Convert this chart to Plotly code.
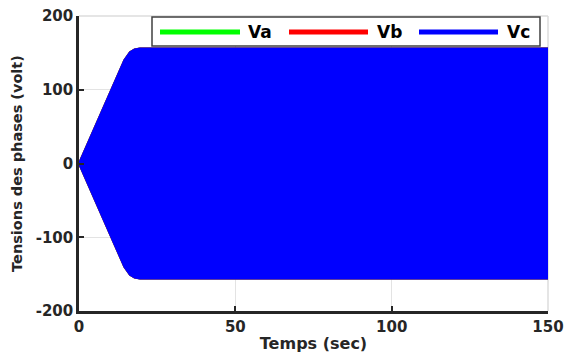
import plotly.graph_objects as go

# Envelope of the (densely oscillating) three-phase voltages
time_s = [0, 6, 14.5, 16.3, 17.8, 19.5, 150]
amp_va = [0, 58, 140, 151, 154.5, 156, 156]
amp_vb = [0, 58, 140, 151, 154.5, 156, 156]
amp_vc = [0, 58, 140, 151, 154.5, 156, 156]

series_names = ["Va", "Vb", "Vc"]
series_amps = [amp_va, amp_vb, amp_vc]
series_colors = ["#00ff00", "#ff0000", "#0000ff"]

x_ticks = [0, 50, 100, 150]
y_ticks = [-200, -100, 0, 100, 200]

fig = go.Figure()
for name, amp, col in zip(series_names, series_amps, series_colors):
    xs = list(time_s) + list(reversed(time_s))
    ys = list(amp) + [-a for a in reversed(amp)]
    fig.add_trace(go.Scatter(x=xs, y=ys, mode="lines", fill="toself",
                             fillcolor=col, line=dict(color=col, width=2),
                             name=name, showlegend=False, hoverinfo="skip"))

TXT = "#262626"
tickfont = dict(family="DejaVu Sans", size=15, color=TXT)
fig.update_layout(
    width=566, height=360,
    margin=dict(l=79, r=18, t=16, b=49),
    paper_bgcolor="white", plot_bgcolor="white",
    font=dict(family="DejaVu Sans", color=TXT),
    showlegend=False,
)
fig.update_xaxes(range=[0, 150], tickvals=x_ticks, ticktext=[f"<b>{v}</b>" for v in x_ticks],
                 tickfont=tickfont, showline=True, linecolor=TXT, linewidth=2.5,
                 ticks="inside", ticklen=5, tickwidth=2, tickcolor=TXT, automargin=False,
                 showgrid=True, gridcolor="#e3e3e3", gridwidth=1, zeroline=False,
                 title=dict(text="<b>Temps (sec)</b>", font=dict(family="DejaVu Sans", size=16, color=TXT), standoff=4))
fig.update_yaxes(range=[-200, 200], tickvals=y_ticks, ticktext=[f"<b>{v}</b>" for v in y_ticks],
                 tickfont=tickfont, showline=True, linecolor=TXT, linewidth=2.5,
                 ticks="inside", ticklen=5, tickwidth=2, tickcolor=TXT, automargin=False,
                 showgrid=True, gridcolor="#e3e3e3", gridwidth=1, zeroline=False,
                 title=dict(text="<b>Tensions des phases (volt)</b>", font=dict(family="DejaVu Sans", size=14.5, color=TXT), standoff=10))

# Light box on top and right sides
fig.add_shape(type="line", xref="paper", yref="paper", x0=0, x1=1, y0=1, y1=1,
              line=dict(color="#dcdcdc", width=1.5), layer="below")
fig.add_shape(type="line", xref="paper", yref="paper", x0=1, x1=1, y0=0, y1=1,
              line=dict(color="#dcdcdc", width=1.5), layer="below")

# Legend drawn in paper coordinates (long line samples like the reference)
def px(x):
    return (x - 79) / 469.0

def py(y):
    return (311 - y) / 295.0

fig.add_shape(type="rect", xref="paper", yref="paper", x0=px(152), x1=px(540), y0=py(46), y1=py(17),
              fillcolor="white", line=dict(color="#404040", width=1.5), layer="above")
leg_line_x = [(160, 240, 246), (289, 368, 375), (419, 498, 505)]
for (x0, x1, xt), name, col in zip(leg_line_x, series_names, series_colors):
    fig.add_shape(type="line", xref="paper", yref="paper", x0=px(x0), x1=px(x1), y0=py(32), y1=py(32),
                  line=dict(color=col, width=5), layer="above")
    fig.add_annotation(xref="paper", yref="paper", x=px(xt), y=py(32), text=f"<b>{name}</b>",
                       showarrow=False, xanchor="left", yanchor="middle",
                       font=dict(family="DejaVu Sans", size=17, color="black"))

fig.write_html("out.html")
